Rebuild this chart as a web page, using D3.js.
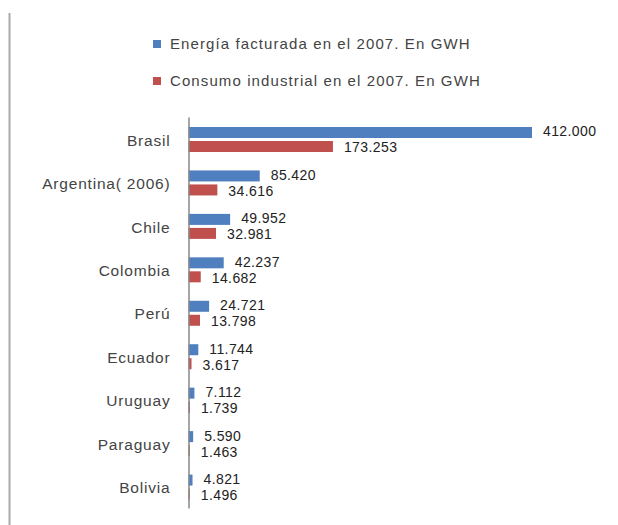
<!DOCTYPE html>
<html><head><meta charset="utf-8">
<script src="https://cdn.jsdelivr.net/npm/d3@7"></script>
<style>body{margin:0;background:#fff}svg{display:block}</style>
</head><body>
<script>
const categories = ["Brasil","Argentina( 2006)","Chile","Colombia","Perú","Ecuador","Uruguay","Paraguay","Bolivia"];
const energia = [412000,85420,49952,42237,24721,11744,7112,5590,4821];
const consumo = [173253,34616,32981,14682,13798,3617,1739,1463,1496];
const seriesNames = ["Energía facturada en el 2007. En GWH","Consumo industrial en el 2007. En GWH"];
const colors = ["#4F7FBE","#C0504D"];

const W=618,H=525;
const svg=d3.select("body").append("svg").attr("width",W).attr("height",H);
const font="Liberation Sans, Arial, sans-serif";

// left border line
svg.append("line").attr("x1",9.5).attr("x2",9.5).attr("y1",13).attr("y2",H)
  .attr("stroke","#aaa").attr("stroke-width",2);

const x0=188.5;
const x=d3.scaleLinear().domain([0,412000]).range([x0,532]);
const y=d3.scaleBand().domain(categories).range([117,508]);
const bh=11;

const fmt=v=>d3.format(",")(v).replace(/,/g,".");

const series=[energia,consumo];
series.forEach((vals,si)=>{
  const off = si===0?10:24;
  const shift = si===0?-1:1;
  svg.append("g").selectAll("rect").data(categories).join("rect")
    .attr("x",x0).attr("y",d=>y(d)+off)
    .attr("width",(d,i)=>x(vals[i])-x0).attr("height",bh)
    .attr("fill",colors[si]);
  svg.append("g").selectAll("text").data(categories).join("text")
    .attr("x",(d,i)=>x(vals[i])+11).attr("y",d=>y(d)+off+bh/2+shift)
    .attr("dy","0.35em").attr("font-family",font).attr("font-size",14)
    .attr("letter-spacing",0.4)
    .attr("fill","#222").text((d,i)=>fmt(vals[i]));
});

// category axis
const ax=svg.append("g").attr("transform",`translate(${x0},0)`)
  .call(d3.axisLeft(y).tickSize(0).tickPadding(18));
ax.select(".domain").attr("stroke","#888").attr("stroke-width",1.5);
ax.selectAll("text").attr("font-family",font).attr("font-size",15.5).attr("fill","#444")
  .attr("letter-spacing",0.8).attr("dy","0.45em");

// legend
const lg=svg.append("g");
seriesNames.forEach((n,i)=>{
  const cy=44+i*37;
  lg.append("rect").attr("x",153).attr("y",cy-4).attr("width",8).attr("height",8).attr("fill",colors[i]);
  lg.append("text").attr("x",170).attr("y",cy).attr("dy","0.35em")
    .attr("font-family",font).attr("font-size",15).attr("letter-spacing",1.1)
    .attr("fill","#444").text(n);
});
</script>
</body></html>
